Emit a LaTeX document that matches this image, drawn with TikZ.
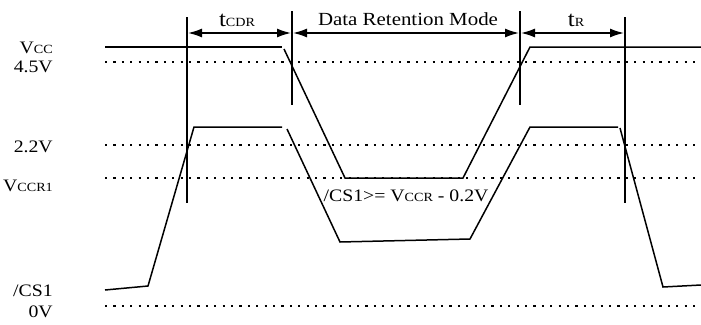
\documentclass[tikz,border=0pt]{standalone}
\usepackage{fontspec}
\usetikzlibrary{arrows.meta}
\setmainfont{Liberation Serif}
\newcommand{\lowc}[1]{{\fontsize{12.5}{12.5}\selectfont #1}}
\newcommand{\bigt}{{\fontsize{22}{22}\selectfont t}}
\tikzset{
  lbl/.style={font=\fontsize{17.5}{20}\selectfont, xscale=1.13, inner sep=0pt},
  level/.style={line width=2.2pt, dash pattern=on 2.2pt off 6.2pt},
  wave/.style={line width=1.5pt},
  marker/.style={line width=1.5pt},
  span/.style={line width=1.5pt, {Latex[length=14pt,width=9pt]}-{Latex[length=14pt,width=9pt]}}
}
\begin{document}
\begin{tikzpicture}[x=1pt, y=-1pt]
    \useasboundingbox (0,0) rectangle (701,324);
        % levels
        \foreach \yy in {62,145,178,306}
            \draw[level] (105,\yy) -- (701,\yy);
        \node[lbl, anchor=east] (vcc) at (53,48) {V\lowc{CC}};
        \node[lbl, anchor=east] (v45) at (53,67) {4.5V};
        \node[lbl, anchor=east] (v22) at (53,147) {2.2V};
        \node[lbl, anchor=east] (vccr) at (53,186) {V\lowc{CCR1}};
        \node[lbl, anchor=east] (cs) at (53,291) {/CS1};
        \node[lbl, anchor=east] (v0) at (53,312) {0V};
        % Vcc
        \draw[wave] (105,47) -- (282,47);
        \draw[wave] (284,49) -- (345,178) -- (463,178) -- (530,47) -- (701,47);
        % /CS1
        \draw[wave] (105,290) -- (148,286) -- (194,127) -- (282,127);
        \draw[wave] (287,129) -- (340,242) -- (470,239) -- (530,127) -- (618,127);
        \draw[wave] (620,128) -- (663,287) -- (701,285);
        % markers
        \coordinate (m1t) at (187,17);  \coordinate (m1b) at (187,203);
        \coordinate (m2t) at (292,11);  \coordinate (m2b) at (292,105);
        \coordinate (m3t) at (520,11);  \coordinate (m3b) at (520,105);
        \coordinate (m4t) at (625,17);  \coordinate (m4b) at (625,203);
        \draw[marker] (m1t) to (m1b);
        \draw[marker] (m2t) to (m2b);
        \draw[marker] (m3t) to (m3b);
        \draw[marker] (m4t) to (m4b);
        \coordinate (a1) at (188,33);
        \coordinate (a2) at (291,33);
        \coordinate (a2r) at (293,33);
        \coordinate (a3) at (519,33);
        \coordinate (a3r) at (521,33);
        \coordinate (a4) at (624,33);
        \draw[span] (a1) to (a2);
        \draw[span] (a2r) to (a3);
        \draw[span] (a3r) to (a4);
        \node[lbl] (tcdr) at (237,20) {\bigt\lowc{CDR}};
        \node[lbl, font=\fontsize{18.5}{20}\selectfont] (drm) at (408,19) {Data Retention Mode};
        \node[lbl] (tr) at (576,20) {\bigt\lowc{R}};
        \node[lbl] (cond) at (406,196) {/CS1>= V\lowc{CCR} - 0.2V};
    \end{tikzpicture}
\end{document}
